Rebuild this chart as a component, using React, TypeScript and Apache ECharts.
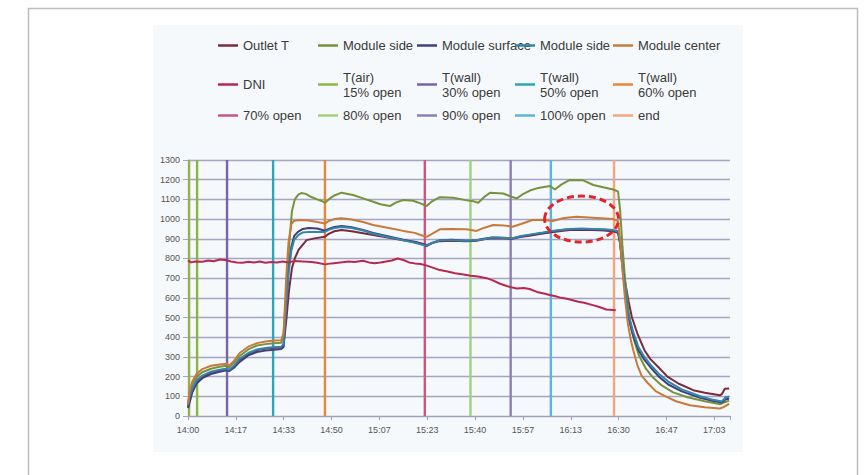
import React, { useEffect, useRef } from 'react';
import * as echarts from 'echarts';

// ---- axis settings (minutes after 14:00) ----
const START_MIN = 14 * 60;
const X_MAX = 188.8;
const X_STEP = 1000 / 60; // Excel time axis: 1000 s major unit
const Y_MAX = 1300;
const Y_STEP = 100;

// ---- data: [minutes after 14:00, value] ----
const outletT: [number, number][] = [
  [0, 45], [0.6, 90], [1.5, 135], [3, 175], [5, 200], [8, 220], [11, 232], [13.5, 238], [14.3, 232], [16, 250],
  [18, 285], [21, 315], [24, 335], [27, 342], [30, 346], [32.5, 348], [33.3, 360], [34.2, 480], [35.2, 640],
  [36.2, 750], [37.2, 800], [38.5, 843], [40, 870], [41.3, 893], [44, 902], [47.7, 910], [49, 925], [51, 938],
  [53.5, 944], [57, 938], [61, 928], [64.5, 919], [70, 905], [75, 892], [79, 885], [81, 878], [83.1, 868],
  [85, 878], [87.7, 888], [92, 890], [97, 887], [100.5, 890], [103, 897], [106, 903], [110, 901], [113, 900],
  [116, 910], [119, 915], [123, 925], [126, 932], [130, 940], [133, 944], [137, 946], [141, 945], [145, 942],
  [148, 938], [149.8, 930], [150.5, 880], [151.3, 780], [152.5, 660], [153.5, 580], [154.6, 503], [156.5, 420],
  [159, 334], [161, 290], [163.8, 249], [167, 200], [170.8, 165], [176, 131], [180, 118], [185.3, 105],
  [186, 112], [187, 138], [188.5, 140],
];

const moduleSide: [number, number][] = [
  [0, 50], [0.6, 120], [1.5, 160], [3, 200], [5, 222], [8, 240], [11, 250], [13.5, 255], [14.3, 248], [16, 270],
  [18, 305], [21, 338], [24, 358], [27, 365], [30, 370], [32.5, 372], [33.3, 420], [34.2, 620], [35.2, 860],
  [36.2, 1040], [37.2, 1100], [38.5, 1125], [39.5, 1132], [41, 1128], [43, 1112], [45, 1100], [46.5, 1092],
  [47.7, 1083], [49, 1100], [51, 1120], [53.5, 1134], [57.5, 1122], [61, 1105], [64.5, 1088], [67, 1075],
  [70.3, 1066], [72.5, 1085], [75, 1097], [78.4, 1093], [81, 1080], [83.1, 1066], [85, 1090], [87.7, 1111],
  [92.4, 1108], [97.1, 1095], [99.5, 1090], [101.1, 1083], [103, 1110], [105.2, 1134], [109.8, 1130],
  [112.4, 1115], [114.5, 1105], [116.5, 1125], [119.1, 1145], [121.5, 1156], [126.1, 1168], [127.8, 1150],
  [130, 1175], [133, 1199], [137.7, 1197], [141.2, 1173], [145, 1160], [148.1, 1150], [149.8, 1140],
  [150.5, 1050], [151.3, 870], [152.2, 700], [153.2, 560], [154.2, 460], [155.5, 380], [157, 310],
  [159.5, 240], [162, 195], [165, 155], [169, 120], [174, 95], [180, 75], [185.5, 60], [187, 70], [188.5, 78],
];

const moduleSurface: [number, number][] = [
  [0, 40], [0.6, 70], [1.5, 120], [3, 165], [5, 192], [8, 213], [11, 225], [13.5, 232], [14.3, 228], [16, 245],
  [18, 275], [21, 308], [24, 325], [27, 332], [30, 336], [32.5, 340], [33.3, 350], [34.2, 550], [35, 740],
  [36, 860], [37, 915], [38.3, 935], [40, 950], [42, 955], [45, 952], [47.7, 941], [49, 950], [51, 960],
  [53.5, 965], [57, 958], [61, 945], [64.5, 930], [70, 912], [75, 895], [79, 882], [81, 875], [83.1, 862],
  [85, 878], [87.7, 893], [92, 895], [97, 890], [100.5, 893], [103, 900], [106, 907], [110, 905], [113, 902],
  [116, 912], [119, 919], [123, 928], [126, 936], [130, 944], [133, 948], [137, 950], [141, 948], [145, 945],
  [148, 940], [149.8, 935], [150.5, 880], [151.3, 760], [152.2, 640], [153.4, 503], [155, 410], [156.9, 334],
  [159, 285], [161, 249], [164, 200], [167.3, 160], [172, 125], [178.4, 92], [183, 76], [186, 68],
  [187.3, 85], [188.5, 88],
];

const moduleSide2: [number, number][] = [
  [0, 55], [0.6, 100], [1.5, 140], [3, 180], [5, 205], [8, 225], [11, 235], [13.5, 240], [14.3, 235], [16, 255],
  [18, 290], [21, 320], [24, 338], [27, 345], [30, 350], [32.5, 352], [33.3, 365], [34.2, 560], [35, 720],
  [36, 840], [37, 895], [38.5, 920], [40, 932], [42, 935], [45, 935], [47.7, 935], [49, 945], [51, 955],
  [53.5, 960], [57, 955], [61, 942], [64.5, 925], [70, 908], [75, 892], [79, 880], [81, 872], [83.1, 865],
  [85, 880], [87.7, 892], [92, 893], [97, 890], [100.5, 892], [103, 898], [106, 906], [110, 904], [113, 903],
  [116, 914], [119, 921], [123, 930], [126, 938], [130, 945], [133, 950], [137, 952], [141, 950], [145, 948],
  [148, 944], [149.8, 938], [150.5, 890], [151.3, 780], [152.2, 660], [153.4, 520], [155, 430], [156.9, 350],
  [159, 300], [161, 262], [164, 215], [167.3, 175], [172, 135], [178.4, 100], [183, 82], [186, 74],
  [187.3, 95], [188.5, 98],
];

const moduleCenter: [number, number][] = [
  [0, 60], [0.6, 130], [1.5, 175], [3, 215], [5, 238], [8, 255], [11, 262], [13.5, 265], [14.3, 255], [16, 280],
  [18, 320], [21, 352], [24, 370], [27, 378], [30, 383], [32.5, 385], [33.3, 420], [34.2, 700], [35, 880],
  [36, 975], [37, 992], [39, 995], [42, 993], [45, 985], [47.7, 978], [49, 990], [51, 1000], [53.5, 1004],
  [57, 998], [61, 985], [64.5, 970], [70, 955], [75, 940], [79, 930], [81, 919], [83.1, 910], [85, 925],
  [87.7, 948], [92, 950], [97, 948], [100.5, 940], [103, 955], [106.3, 970], [110, 968], [113, 961], [116, 975],
  [120, 995], [124, 995], [127, 990], [131, 1005], [135.4, 1012], [141, 1007], [148, 1000], [149.8, 990],
  [150.5, 900], [151.3, 750], [152.2, 600], [153.2, 470], [154.2, 390], [155.1, 334], [156.5, 260], [158, 205],
  [160.3, 165], [163, 125], [166.7, 97], [170, 75], [174.8, 55], [180, 44], [185.3, 38], [186.5, 45], [188.5, 62],
];

const dni: [number, number][] = [
  [0, 790], [1, 780], [2.5, 785], [5, 783], [7, 790], [9, 786], [11, 795], [13, 792], [15, 785], [17, 780],
  [19, 778], [21, 783], [23, 780], [25, 785], [27, 778], [29, 782], [31, 780], [33, 785], [35, 780], [37, 787],
  [40, 785], [43, 782], [45, 778], [47.7, 770], [50, 775], [53, 780], [56, 785], [58, 782], [61, 788], [63, 780],
  [65, 776], [67, 780], [69, 785], [71, 790], [73, 800], [75, 792], [77, 780], [79, 775], [81, 772], [83, 765],
  [85, 755], [87.7, 741], [90, 735], [93, 725], [96, 718], [98.5, 712], [101, 708], [104, 700], [106, 690],
  [108.5, 673], [111, 660], [113, 652], [114.5, 648], [117, 650], [119, 645], [121.5, 630], [124, 622],
  [126, 614], [128, 608], [130, 600], [132, 595], [134, 588], [136, 580], [138, 575], [141, 563], [143, 555],
  [145.7, 541], [147, 540], [149, 537],
];

// vertical event markers (minutes after 14:00)
const markerTimes = [0.38, 3.17, 13.6, 29.65, 47.7, 82.5, 98.4, 112.4, 126.4, 148.4];
const markerNames = [
  'start', 'T(air)\n15% open', 'T(wall)\n30% open', 'T(wall)\n50% open', 'T(wall)\n60% open',
  '70% open', '80% open', '90% open', '100% open', 'end',
];
const markerColors = [
  '#93B24E', '#8DB541', '#7862A8', '#2FA6B6', '#E8873A', '#C9577D', '#A4CF7E', '#8C7EB8', '#5BB5D8', '#F3A67C',
];

const curveNames = ['Outlet T', 'Module side', 'Module surface', 'Module side ', 'Module center', 'DNI'];
const curveColors = ['#7B2A3E', '#76923B', '#403F7C', '#3585A9', '#C77A3A', '#B8294F'];
const curveData = [outletT, moduleSide, moduleSurface, moduleSide2, moduleCenter, dni];

const legendRows = [
  ['Outlet T', 'Module side', 'Module surface', 'Module side ', 'Module center'],
  ['DNI', 'T(air)\n15% open', 'T(wall)\n30% open', 'T(wall)\n50% open', 'T(wall)\n60% open'],
  ['70% open', '80% open', '90% open', '100% open', 'end'],
];

const LEGEND_COL_X = [218, 318, 417, 515, 613];
const LEGEND_ROW_Y = [45.5, 84.5, 115.5];
const LEGEND_LINE_H = 15;

function fmtTime(v: number): string {
  const k = Math.round(v / X_STEP);
  if (Math.abs(v - k * X_STEP) > 0.01) return '';
  const t = START_MIN + Math.round(v);
  const h = Math.floor(t / 60);
  const m = t % 60;
  return h + ':' + (m < 10 ? '0' : '') + m;
}

export default function App() {
  const ref = useRef<HTMLDivElement>(null);
  useEffect(() => {
    if (!ref.current) return;
    const chart = echarts.init(ref.current, undefined, { renderer: 'svg' });
    const legendFont = {
      fontFamily: '"Liberation Sans Narrow", "Liberation Sans", Arial, sans-serif',
      fontSize: 13,
      lineHeight: LEGEND_LINE_H,
      color: '#3a3a3a',
    };
    const legends: any[] = [];
    legendRows.forEach((row, r) => {
      row.forEach((name, c) => {
        const lines = name.split('\n').length;
        legends.push({
          data: [name],
          left: LEGEND_COL_X[c],
          top: LEGEND_ROW_Y[r] - (lines * LEGEND_LINE_H) / 2,
          padding: 0,
          itemGap: 0,
          itemWidth: 20,
          itemHeight: 2.5,
          icon: 'rect',
          selectedMode: false,
          textStyle: legendFont,
        });
      });
    });

    const markerSeries = markerTimes.map((t, i) => ({
      name: markerNames[i],
      type: 'line',
      data: [[t, 0], [t, Y_MAX]],
      showSymbol: false,
      symbol: 'none',
      color: markerColors[i],
      lineStyle: { width: 2.4, color: markerColors[i] },
      silent: true,
      z: 1,
    }));
    const curveSeries = curveData.map((d, i) => ({
      name: curveNames[i],
      type: 'line',
      data: d,
      showSymbol: false,
      symbol: 'none',
      color: curveColors[i],
      lineStyle: { width: 2, color: curveColors[i] },
      silent: true,
      z: 3,
    }));

    const axisFont = { fontFamily: '"Liberation Sans", Arial, sans-serif', fontSize: 9, color: '#555' };
    const gridColor = '#A3A5C2';

    chart.setOption({
      animation: false,
      backgroundColor: '#ffffff',
      legend: legends,
      grid: { left: 188, right: 135, top: 160, bottom: 59, containLabel: false },
      xAxis: {
        type: 'value',
        min: 0,
        max: X_MAX,
        interval: X_STEP,
        axisLine: { show: true, lineStyle: { color: '#9FA1B8', width: 1.2 } },
        axisTick: { show: true, length: 4, lineStyle: { color: '#9FA1B8' } },
        splitLine: { show: false },
        axisLabel: { ...axisFont, margin: 9, formatter: (v: number) => fmtTime(v) },
      },
      yAxis: {
        type: 'value',
        min: 0,
        max: Y_MAX,
        interval: Y_STEP,
        axisLine: { show: true, lineStyle: { color: '#9FA1B8', width: 1.2 } },
        axisTick: { show: true, length: 5, lineStyle: { color: gridColor } },
        splitLine: { show: true, lineStyle: { color: gridColor, width: 1.3 } },
        axisLabel: { ...axisFont, margin: 8, formatter: (v: number) => String(v) },
      },
      series: [...markerSeries, ...curveSeries],
    });

    const c = chart.convertToPixel({ gridIndex: 0 }, [137.1, 1000]) as number[];
    chart.setOption({
      graphic: [
        {
          type: 'rect',
          z: -10,
          silent: true,
          shape: { x: 28.5, y: 8.5, width: 829, height: 500 },
          style: { fill: 'none', stroke: '#BDBDBD', lineWidth: 1.5 },
        },
        {
          type: 'rect',
          z: -9,
          silent: true,
          shape: { x: 153, y: 25, width: 590, height: 427 },
          style: { fill: '#F5F9FC' },
        },
        {
          type: 'ellipse',
          z: 100,
          silent: true,
          shape: { cx: c[0], cy: c[1], rx: 37, ry: 23 },
          style: { fill: 'none', stroke: '#E0262B', lineWidth: 3, lineDash: [7, 4] },
        },
      ],
    });

    return () => chart.dispose();
  }, []);
  return (
    <div
      ref={ref}
      style={{ position: 'fixed', left: 0, top: 0, width: 865, height: 475 }}
    />
  );
}
